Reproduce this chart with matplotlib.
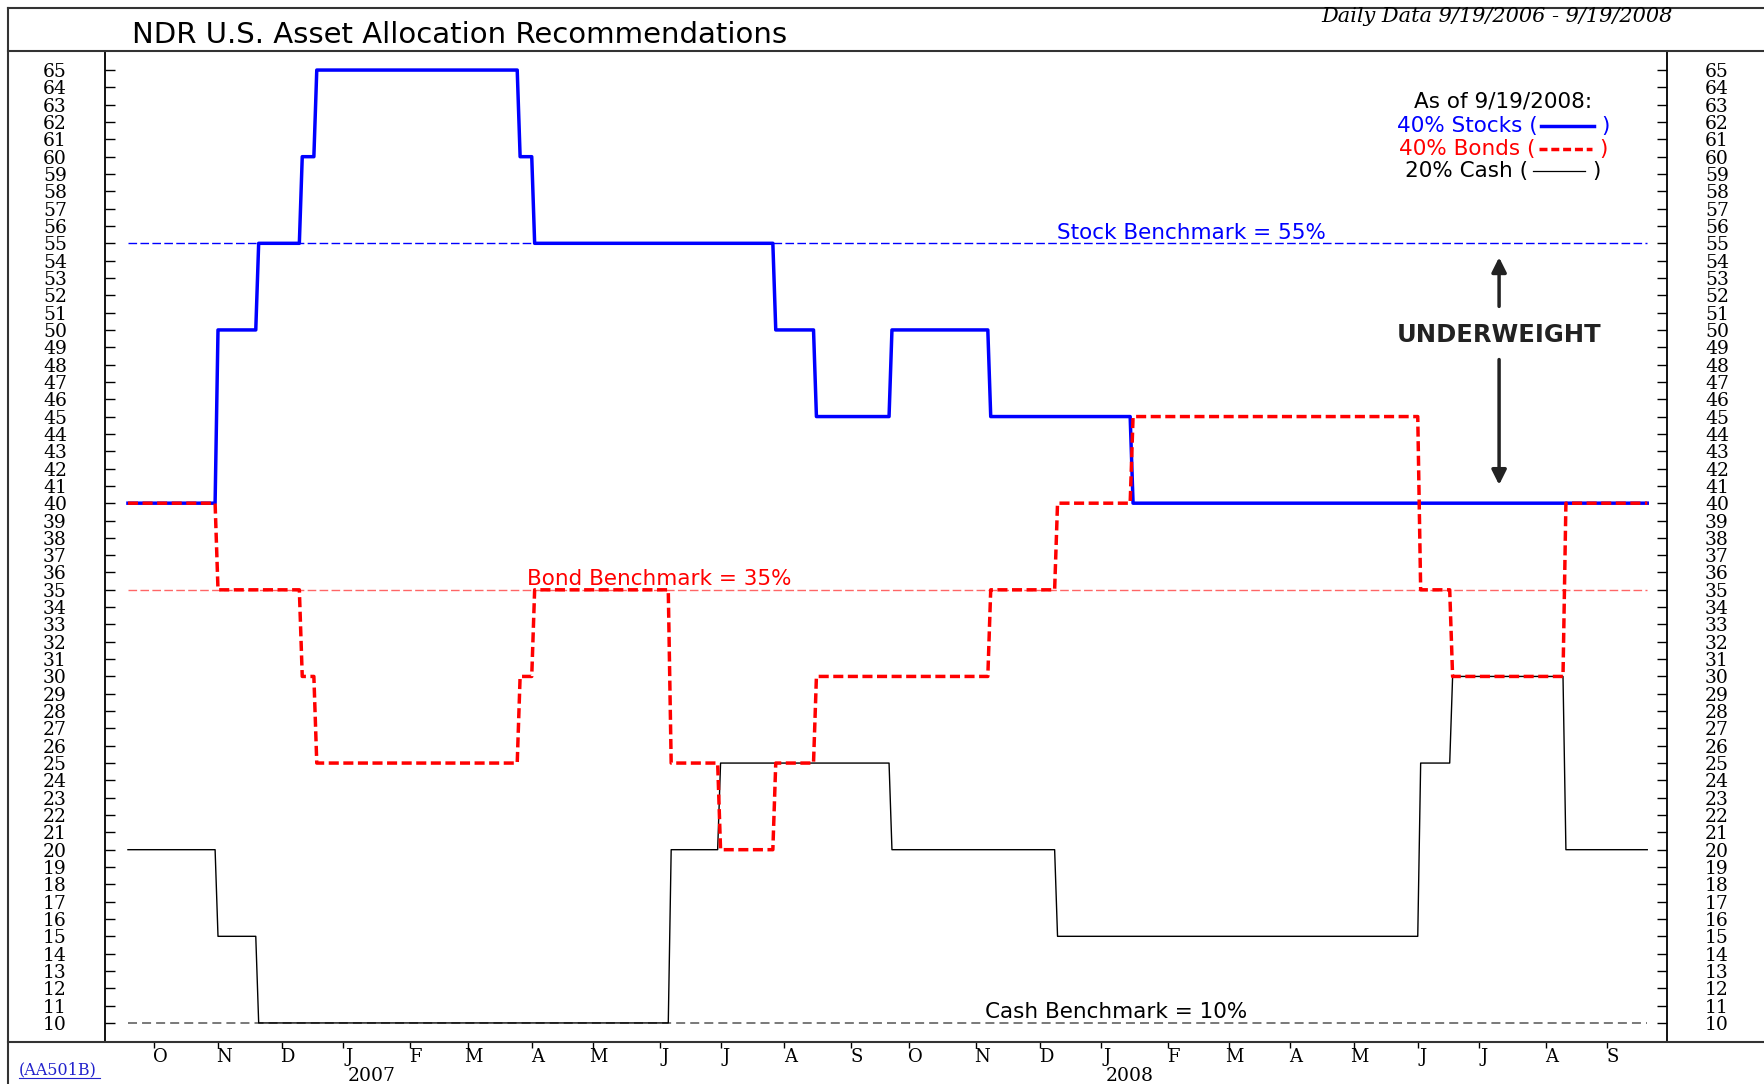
import matplotlib
matplotlib.use("Agg")
import matplotlib.pyplot as plt
from matplotlib.lines import Line2D
from matplotlib.offsetbox import TextArea, DrawingArea, HPacker, AnchoredOffsetbox
import numpy as np
import pandas as pd

# periodo (dias habiles)
inicio = "2006-09-19"
fin = "2008-09-19"

# fechas en que cambia la recomendacion (primer dia con el nuevo valor)
fechas_cambio = ["2006-09-19", "2006-11-01", "2006-11-21", "2006-12-12", "2006-12-19",
                 "2007-03-27", "2007-04-03", "2007-06-07", "2007-07-02", "2007-07-27",
                 "2007-08-16", "2007-09-21", "2007-11-08", "2007-12-11", "2008-01-16",
                 "2008-06-03", "2008-06-18", "2008-08-12"]
acciones = [40, 50, 55, 60, 65, 60, 55, 55, 55, 50, 45, 50, 45, 45, 40, 40, 40, 40]
bonos = [40, 35, 35, 30, 25, 30, 35, 25, 20, 25, 30, 30, 35, 40, 45, 35, 30, 40]
efectivo = [20, 15, 10, 10, 10, 10, 10, 20, 25, 25, 25, 20, 20, 15, 15, 25, 30, 20]

# benchmarks
bench_acciones = 55
bench_bonos = 35
bench_efectivo = 10

niveles_y = list(range(10, 66))

dias = pd.bdate_range(inicio, fin)
x = np.arange(len(dias))
cambios = pd.to_datetime(fechas_cambio)


def serie(valores):
    # valor vigente cada dia
    pos = cambios.searchsorted(dias, side="right") - 1
    return np.array(valores)[pos]


def pos(fecha):
    return dias.searchsorted(pd.Timestamp(fecha))


W, H = 1764, 1084
fig = plt.figure(figsize=(W / 100, H / 100), dpi=100)
ax = fig.add_axes([105 / W, (H - 1042) / H, (1667 - 105) / W, (1042 - 51) / H])

# series
ax.plot(x, serie(acciones), color="#0000ff", lw=2.5, zorder=3)
ax.plot(x, serie(efectivo), color="black", lw=1.0, zorder=4)
ax.plot(x, serie(bonos), color="#ff0000", lw=2.5, ls=(0, (2.9, 1.3)), zorder=5)

# lineas de benchmark
ax.hlines(bench_acciones, x[0], x[-1], color="#0000ff", lw=1, ls=(0, (6.2, 2.4)), zorder=2)
ax.hlines(bench_bonos, x[0], x[-1], color="#ff6666", lw=1, ls=(0, (6.2, 2.4)), zorder=2)
ax.hlines(bench_efectivo, x[0], x[-1], color="#555555", lw=1.1, ls=(0, (5.9, 3.3)), zorder=2)

ax.text(pos("2008-02-13"), bench_acciones + 0.27, f"Stock Benchmark = {bench_acciones}%",
        color="#0000ff", fontsize=15.5, ha="center", va="baseline")
ax.text(pos("2007-06-01"), bench_bonos + 0.3, f"Bond Benchmark = {bench_bonos}%",
        color="#ff0000", fontsize=15.5, ha="center", va="baseline")
ax.text(pos("2008-01-08"), bench_efectivo + 0.3, f"Cash Benchmark = {bench_efectivo}%",
        color="black", fontsize=15.5, ha="center", va="baseline")

# flechas de UNDERWEIGHT
xf = pos("2008-07-10")
ax.annotate("", xy=(xf, 54.35), xytext=(xf, 51.2),
            arrowprops=dict(arrowstyle="-|>", lw=2.5, color="#222222", mutation_scale=22))
ax.annotate("", xy=(xf, 40.9), xytext=(xf, 48.45),
            arrowprops=dict(arrowstyle="-|>", lw=2.5, color="#222222", mutation_scale=22))
ax.text(xf, 49.7, "UNDERWEIGHT", fontsize=17.5, fontweight="bold", color="#222222",
        ha="center", va="center")

# ejes
ax.set_xlim(-7.9, 529.8)
ax.set_ylim(8.9, 66.1)
ax.set_yticks(niveles_y, [str(v) for v in niveles_y], ha="center",
              family="DejaVu Serif", fontsize=13.5)
ax.tick_params(axis="y", left=True, right=True, labelleft=True, labelright=True,
               direction="in", length=7, width=1, pad=36)

inicio_mes = [i for i in range(1, len(dias)) if dias[i].month != dias[i - 1].month]
ax.set_xticks(inicio_mes)
ax.set_xticklabels([])
ax.set_xticks([i + 2 for i in inicio_mes], minor=True)
ax.set_xticklabels([dias[i].strftime("%b")[0] for i in inicio_mes], minor=True,
                   family="DejaVu Serif", fontsize=13)
ax.tick_params(axis="x", which="major", direction="out", length=4, width=1)
ax.tick_params(axis="x", which="minor", length=0, pad=4)

for i in inicio_mes:
    if dias[i].month == 1:
        ax.text(i + 10, -(1076 - 1042) / 991, str(dias[i].year),
                transform=ax.get_xaxis_transform(),
                family="DejaVu Serif", fontsize=13.5, ha="center", va="center")

for lado in ["top", "bottom"]:
    ax.spines[lado].set_visible(False)
for lado in ["left", "right"]:
    ax.spines[lado].set_linewidth(1.3)

# leyenda de la derecha
filas = [("As of 9/19/2008:", "black", None),
         (f"{acciones[-1]}% Stocks (", "#0000ff", dict(color="#0000ff", lw=2.5)),
         (f"{bonos[-1]}% Bonds (", "#ff0000", dict(color="#ff0000", lw=2.5, ls=(0, (2.3, 1.1)))),
         (f"{efectivo[-1]}% Cash (", "black", dict(color="black", lw=0.9))]
centros_y = [102, 126, 148.5, 171]
for (txt, col, estilo), cy in zip(filas, centros_y):
    partes = [TextArea(txt, textprops=dict(color=col, fontsize=15.5))]
    if estilo is not None:
        da = DrawingArea(44, 10)
        da.add_artist(Line2D([2, 40], [5, 5], **estilo))
        partes += [da, TextArea(")", textprops=dict(color=col, fontsize=15.5))]
    caja = HPacker(children=partes, align="center", pad=0, sep=1)
    ab = AnchoredOffsetbox(loc="center", child=caja, frameon=False, pad=0, borderpad=0,
                           bbox_to_anchor=(1503 / W, 1 - cy / H),
                           bbox_transform=fig.transFigure)
    fig.add_artist(ab)

# titulos y marco
fig.text(132 / W, 1 - 35 / H, "NDR U.S. Asset Allocation Recommendations",
         fontsize=21, ha="left", va="center")
fig.text(1673 / W, 1 - 16 / H, "Daily Data 9/19/2006 - 9/19/2008", family="DejaVu Serif",
         style="italic", fontsize=15, ha="right", va="center")
fig.text(19 / W, 1 - 1070 / H, "(AA501B)", color="#2222cc", family="DejaVu Serif",
         fontsize=11.5, ha="left", va="center")
fig.add_artist(Line2D([19 / W, 100 / W], [1 - 1078 / H, 1 - 1078 / H],
                      transform=fig.transFigure, color="#2222cc", lw=0.8))

marco = [([8, W], [8, 8]), ([8, W], [51, 51]), ([8, W], [1042, 1042]), ([8, 8], [8, H])]
for xs, ys in marco:
    fig.add_artist(Line2D([v / W for v in xs], [1 - v / H for v in ys],
                          transform=fig.transFigure, color="#333333", lw=1.5))

fig.savefig("out.png", dpi=100)
